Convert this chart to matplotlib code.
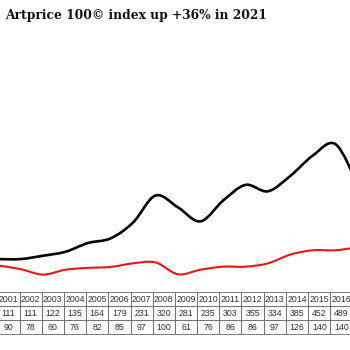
import matplotlib
matplotlib.use("Agg")
import matplotlib.pyplot as plt
from matplotlib.path import Path
from matplotlib.patches import PathPatch
import numpy as np

# values (table rows); 2017 is only the line leaving the frame
years = [2001, 2002, 2003, 2004, 2005, 2006, 2007, 2008,
         2009, 2010, 2011, 2012, 2013, 2014, 2015, 2016]
artprice = [111, 111, 122, 135, 164, 179, 231, 320,
            281, 235, 303, 355, 334, 385, 452, 489]
sp500 = [90, 78, 60, 76, 82, 85, 97, 100,
         61, 76, 86, 86, 97, 126, 140, 140]
line_years = years + [2017]
line_art = artprice + [355]
line_sp = sp500 + [150]
title = "Artprice 100\u00a9 index up +36% in 2021"


def smooth_path(xs, ys):
    # Catmull-Rom through the data points, as cubic Bezier segments
    p = np.column_stack([xs, ys]).astype(float)
    pts = np.vstack([p[0], p, p[-1]])
    verts = [p[0]]
    codes = [Path.MOVETO]
    for i in range(1, len(pts) - 2):
        c1 = pts[i] + (pts[i + 1] - pts[i - 1]) / 6
        c2 = pts[i + 1] - (pts[i + 2] - pts[i]) / 6
        verts += [c1, c2, pts[i + 1]]
        codes += [Path.CURVE4] * 3
    return Path(verts, codes)


fig = plt.figure(figsize=(3.5, 3.5), dpi=100)
ax = fig.add_axes([0, 0, 1, 1])
ax.set_xlim(2001.089, 2016.644)
ax.set_ylim(-188, 963)
ax.axis("off")

ax.add_patch(PathPatch(smooth_path(line_years, line_sp), fill=False,
                       edgecolor="#e8161b", lw=1.5, capstyle="round"))
ax.add_patch(PathPatch(smooth_path(line_years, line_art), fill=False,
                       edgecolor="black", lw=1.9, capstyle="round"))

fig.text(0.014, 1 - 16 / 350, title, family="DejaVu Serif",
         fontweight="bold", fontsize=8.8, va="center", ha="left",
         color="#111111")

# table under the lines
cells = [[str(y) for y in years], [str(v) for v in artprice], [str(v) for v in sp500]]
col_w = 22.2
left = 19.5 - col_w
ncol = len(years)
tbl = ax.table(cellText=cells, cellLoc="center",
               bbox=[left / 350, 1 - 334 / 350, ncol * col_w / 350, 42 / 350])
tbl.auto_set_font_size(False)
for (r, c), cell in tbl.get_celld().items():
    cell.set_edgecolor("#666666")
    cell.set_linewidth(0.6)
    cell.get_text().set_fontsize(6.3)
    cell.get_text().set_family("Liberation Sans")
    cell.get_text().set_color("#333333")
tbl.set_clip_on(False)

fig.savefig("out.png", dpi=100, facecolor="white")
